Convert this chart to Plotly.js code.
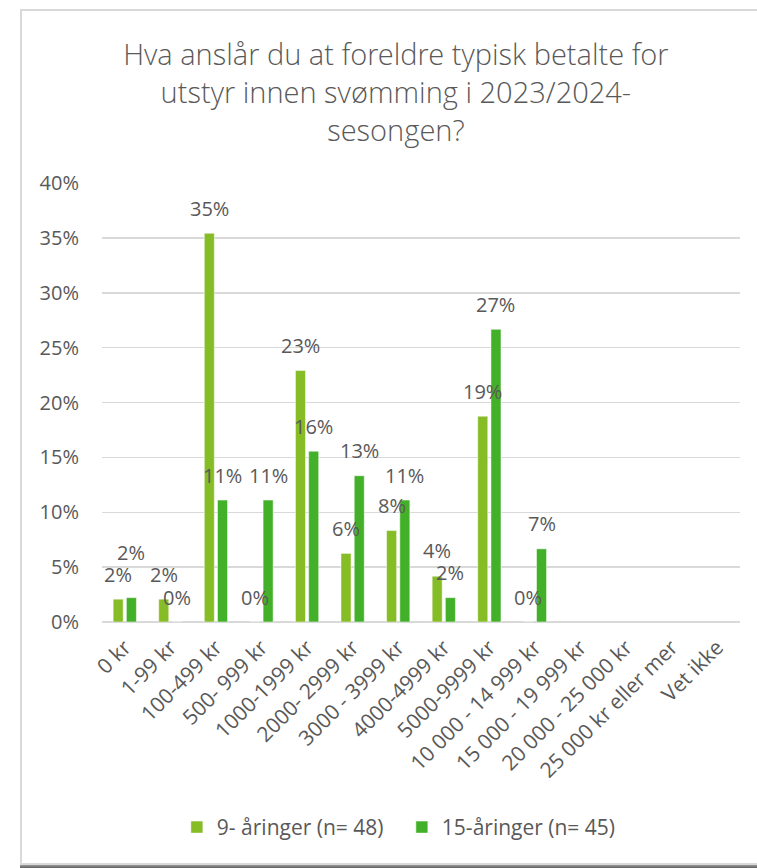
<!DOCTYPE html>
<html>
<head>
<meta charset="utf-8">
<script src="https://cdn.plot.ly/plotly-3.0.1.min.js"></script>
<style>
  html, body { margin: 0; padding: 0; background: #ffffff; }
  #wrap { position: relative; width: 757px; height: 868px; overflow: hidden; }
  #chart { position: absolute; left: 0; top: 0; width: 757px; height: 868px; }
  #frame { position: absolute; left: 20px; top: 9px; width: 800px; height: 852px;
           border-top: 2px solid #d9d9d9; border-left: 2px solid #d9d9d9; border-bottom: 2px solid #d9d9d9;
           pointer-events: none; }
  #shadow { position: absolute; left: 20px; top: 865px; width: 800px; height: 3px;
            background: linear-gradient(#9a9a9a, #5f5f5f); pointer-events: none; }
</style>
</head>
<body>
<div id="wrap">
  <div id="chart"></div>
  <div id="frame"></div>
  <div id="shadow"></div>
</div>
<script>
const categories = ["0 kr", "1-99 kr", "100-499 kr", "500- 999 kr", "1000-1999 kr", "2000- 2999 kr",
  "3000 - 3999 kr", "4000-4999 kr", "5000-9999 kr", "10 000 - 14 999 kr", "15 000 - 19 999 kr",
  "20 000 - 25 000 kr", "25 000 kr eller mer", "Vet ikke"];
const seriesNames = ["9- åringer (n= 48)", "15-åringer (n= 45)"];
const values9 = [0.0208, 0.0208, 0.3542, 0.0, 0.2292, 0.0625, 0.0833, 0.0417, 0.1875, 0.0, null, null, null, null];
const values15 = [0.0222, 0.0, 0.1111, 0.1111, 0.1556, 0.1333, 0.1111, 0.0222, 0.2667, 0.0667, null, null, null, null];
const yTickVals = [0, 0.05, 0.10, 0.15, 0.20, 0.25, 0.30, 0.35, 0.40];
const yTickText = ["0%", "5%", "10%", "15%", "20%", "25%", "30%", "35%", "40%"];
const titleText = "Hva anslår du at foreldre typisk betalte for<br>utstyr innen svømming i 2023/2024-<br>sesongen?";

const colors = ["#86bc25", "#43b02a"];
const textColor = "#595959";
const fontFam = "'Open Sans', 'Noto Sans', sans-serif";
const titleFam = "'Open Sans Light', 'Open Sans', 'Noto Sans', sans-serif";

const W = 757, H = 868;
const M = { l: 102, r: 17, t: 183, b: 246 };
const yMax = 0.40;
const pxPerUnit = (H - M.t - M.b) / yMax;

const allSeries = [values9, values15];

const traces = allSeries.map((vals, s) => ({
  type: "bar",
  name: seriesNames[s],
  x: categories,
  y: vals,
  marker: { color: colors[s], line: { color: "#ffffff", width: 0.5 } },
  hoverinfo: "skip"
}));

// data labels, placed from the data through the axis scales;
// when the two labels of one category would collide, the higher one is lifted (as Excel does)
const annotations = [];
const offsets = [-6.6, 6.6];
const baseShift = 25;
const minSep = 22;
categories.forEach((c, i) => {
  const a = values9[i], b = values15[i];
  const shifts = [baseShift, baseShift];
  if (a !== null && b !== null) {
    const sep = Math.abs(a - b) * pxPerUnit;
    if (sep < minSep) {
      if (b >= a) shifts[1] += minSep - sep; else shifts[0] += minSep - sep;
    }
  }
  allSeries.forEach((vals, s) => {
    const v = vals[i];
    if (v === null) return;
    annotations.push({
      x: c, y: v, xref: "x", yref: "y",
      text: Math.round(v * 100) + "%",
      showarrow: false, xanchor: "center", yanchor: "middle",
      xshift: offsets[s], yshift: shifts[s],
      font: { family: fontFam, size: 20, color: textColor }
    });
  });
});

const layout = {
  width: W, height: H,
  paper_bgcolor: "#ffffff", plot_bgcolor: "#ffffff",
  margin: M,
  title: {
    text: titleText,
    font: { family: titleFam, size: 29, color: textColor, weight: 300 },
    x: 0.523, xanchor: "center", xref: "container",
    y: 0.925, yanchor: "middle", yref: "container"
  },
  barmode: "group",
  bargap: 0.42,
  bargroupgap: 0.24,
  showlegend: true,
  legend: {
    orientation: "h", x: 0.47, xanchor: "center", y: -0.468, yanchor: "middle",
    font: { family: fontFam, size: 21, color: textColor },
    itemwidth: 30, entrywidth: 180, tracegroupgap: 0
  },
  xaxis: {
    type: "category",
    tickangle: -45,
    tickfont: { family: fontFam, size: 21, color: textColor },
    showgrid: false, zeroline: false,
    showline: false, ticks: "", ticklabelstandoff: 8,
    automargin: false
  },
  yaxis: {
    range: [0, yMax],
    tickvals: yTickVals, ticktext: yTickText,
    tickfont: { family: fontFam, size: 20, color: textColor },
    showgrid: true, gridcolor: "#d9d9d9", gridwidth: 1.5,
    zeroline: true, zerolinecolor: "#d9d9d9", zerolinewidth: 1.5,
    showline: false, ticks: "", ticklabelstandoff: 22,
    automargin: false, fixedrange: true
  },
  annotations: annotations
};

Plotly.newPlot("chart", traces, layout, { displayModeBar: false, staticPlot: true });
</script>
</body>
</html>
